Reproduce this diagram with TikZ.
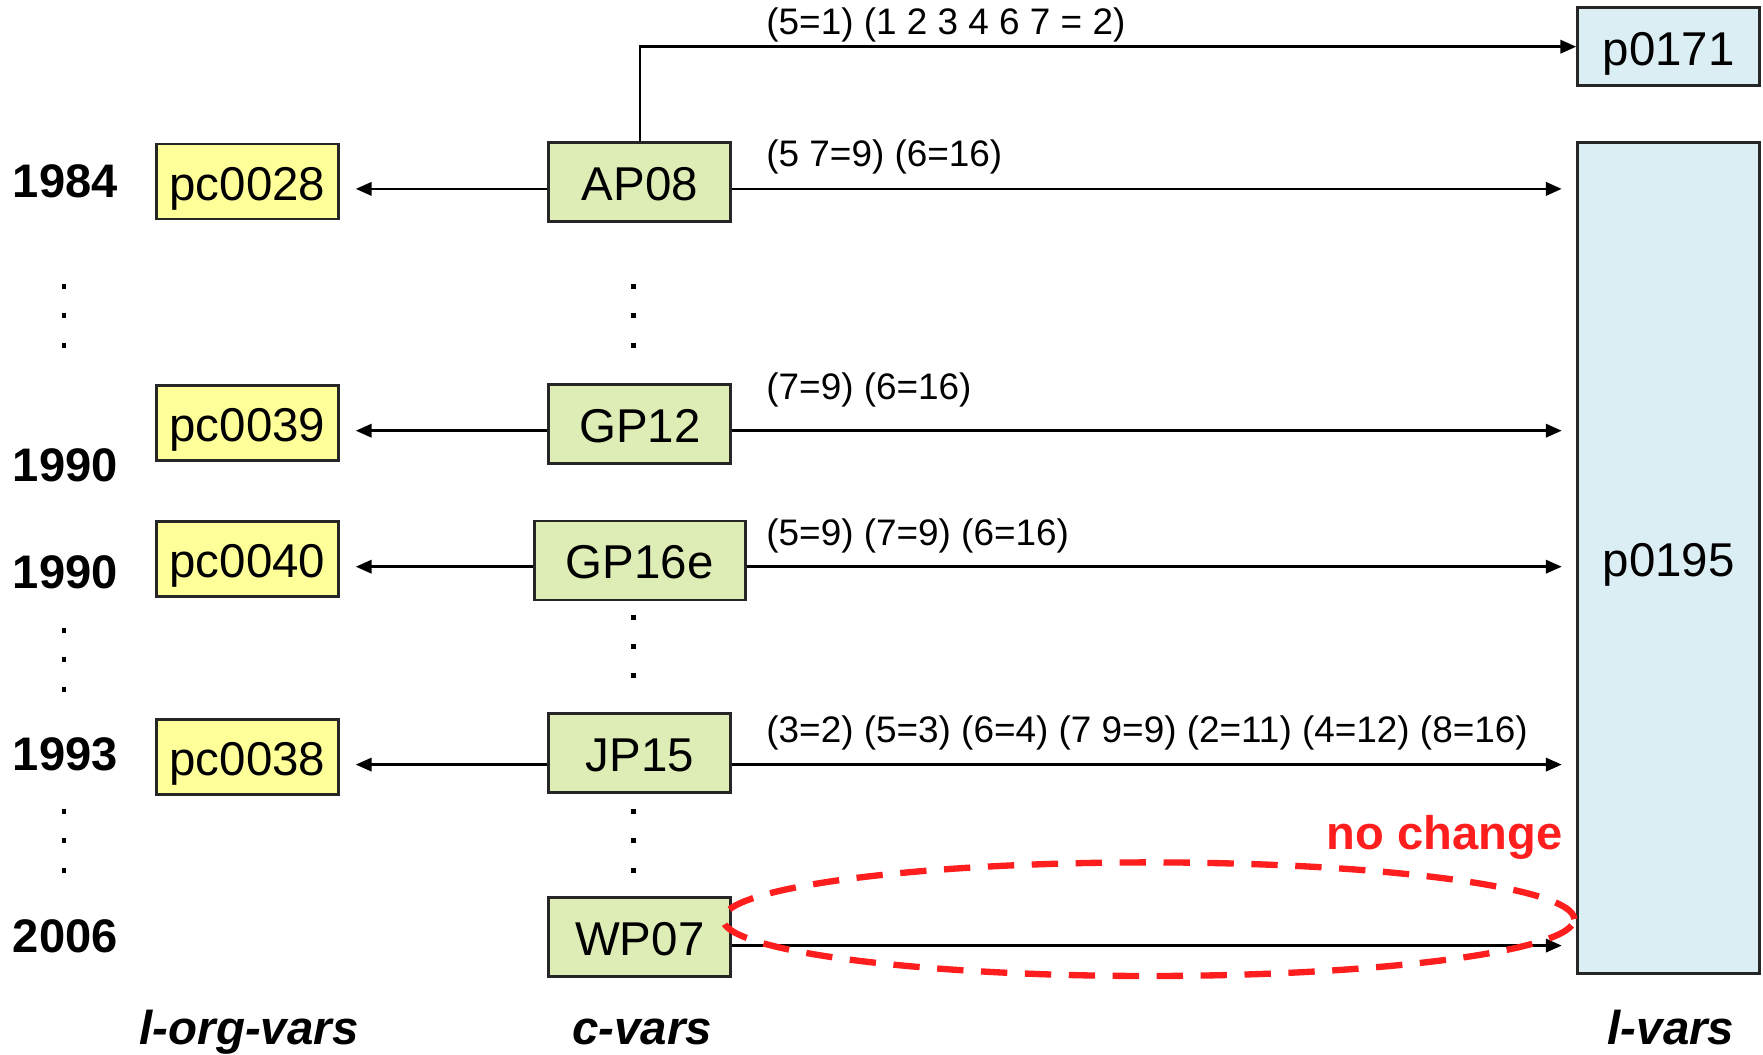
\documentclass[tikz,border=0pt]{standalone}
\usepackage{fontspec}
\setmainfont{Liberation Sans}
\usetikzlibrary{arrows.meta}
\definecolor{orgyellow}{HTML}{FFFF99}
\definecolor{cgreen}{HTML}{DDEDB5}
\definecolor{lblue}{HTML}{DBEEF4}
\definecolor{markred}{HTML}{FF1E1E}
\begin{document}
\begin{tikzpicture}[
    arr/.style={draw=black, line width=0.7pt, -{Triangle[length=4.5pt,width=3.8pt]}},
    box/.style={draw=black!85, line width=0.8pt, inner sep=0pt, minimum width=1.82cm,
      font=\fontsize{13.5}{15}\selectfont, text height=10.5pt, text depth=0pt},
    orgbox/.style={box, fill=orgyellow, minimum height=0.75cm},
    cbox/.style={box, fill=cgreen, minimum height=0.79cm},
    lbox/.style={box, fill=lblue},
    year/.style={font=\fontsize{13.4}{15}\selectfont\bfseries, inner sep=0pt},
    colname/.style={font=\fontsize{13.5}{15}\selectfont\bfseries\itshape, inner sep=0pt, anchor=base},
    recode/.style={font=\fontsize{10.5}{12}\selectfont, inner sep=0pt, anchor=west},
    remark/.style={font=\fontsize{13.4}{15}\selectfont\bfseries, text=markred, inner sep=0pt, anchor=base east}
]
\fill[white] (0,0) rectangle (17.63,10.53);

\node[year] (y1984)  at (0.652,8.72)  {1984};
\node[year] (y1990a) at (0.652,5.875) {1990};
\node[year] (y1990b) at (0.652,4.807) {1990};
\node[year] (y1993)  at (0.652,2.985) {1993};
\node[year] (y2006)  at (0.652,1.164) {2006};

\node[orgbox] (pc0028) at (2.474,8.714) {pc0028};
\node[orgbox] (pc0039) at (2.474,6.297) {pc0039};
\node[orgbox] (pc0040) at (2.474,4.936) {pc0040};
\node[orgbox] (pc0038) at (2.474,2.957) {pc0038};

\node[cbox] (AP08) at (6.398,8.708) {AP08};
\node[cbox] (GP12) at (6.398,6.291) {GP12};
\node[cbox, minimum width=2.11cm] (GP16e) at (6.398,4.925) {GP16e};
\node[cbox] (JP15) at (6.398,3.002) {JP15};
\node[cbox] (WP07) at (6.398,1.164) {WP07};

\node[lbox, minimum height=0.776cm] (p0171) at (16.686,10.063) {p0171};
\node[lbox, minimum height=8.31cm] (p0195) at (16.686,4.947) {p0195};

\coordinate (rAP)   at (0,8.641);
\coordinate (rGP12) at (0,6.223);
\coordinate (rGP16) at (0,4.863);
\coordinate (rJP)   at (0,2.884);
\coordinate (rWP)   at (0,1.074);

\foreach \c/\o/\r in {AP08/pc0028/rAP, GP12/pc0039/rGP12, GP16e/pc0040/rGP16, JP15/pc0038/rJP}
  \draw[arr, shorten >=0.16cm] (\c.west |- \r) -- (\o.east |- \r);
\foreach \c/\r in {AP08/rAP, GP12/rGP12, GP16e/rGP16, JP15/rJP, WP07/rWP}
  \draw[arr, shorten >=0.145cm] (\c.east |- \r) -- (p0195.west |- \r);
\draw[arr] (AP08.north) |- (p0171.west);

\node[recode] (rec0171) at (7.657,10.283) {(5=1) (1 2 3 4 6 7 = 2)};
\node[recode] (recAP)   at (7.657,8.956)  {(5 7=9) (6=16)};
\node[recode] (recGP12) at (7.657,6.628)  {(7=9) (6=16)};
\node[recode] (recGP16) at (7.657,5.167)  {(5=9) (7=9) (6=16)};
\node[recode] (recJP)   at (7.657,3.199)  {(3=2) (5=3) (6=4) (7 9=9) (2=11) (4=12) (8=16)};

\foreach \y in {7.663,7.37,7.078,4.222,3.93,3.637,2.412,2.12,1.827}
  \fill (0.64,\y) +(-0.025,-0.025) rectangle +(0.025,0.025);
\foreach \y in {7.663,7.37,7.078,4.357,4.065,3.772,2.412,2.12,1.827}
  \fill (6.33,\y) +(-0.025,-0.025) rectangle +(0.025,0.025);

\node[colname] (orgvars) at (2.49,0.085)  {l-org-vars};
\node[colname] (cvars)   at (6.42,0.085)  {c-vars};
\node[colname] (lvars)   at (16.71,0.085) {l-vars};

\node[remark] (nochange) at (15.63,2.03) {no change};
\draw[markred, line width=1.8pt, dash pattern=on 7.5pt off 5pt] (11.486,1.338) ellipse [x radius=4.256, y radius=0.568];
\end{tikzpicture}
\end{document}
